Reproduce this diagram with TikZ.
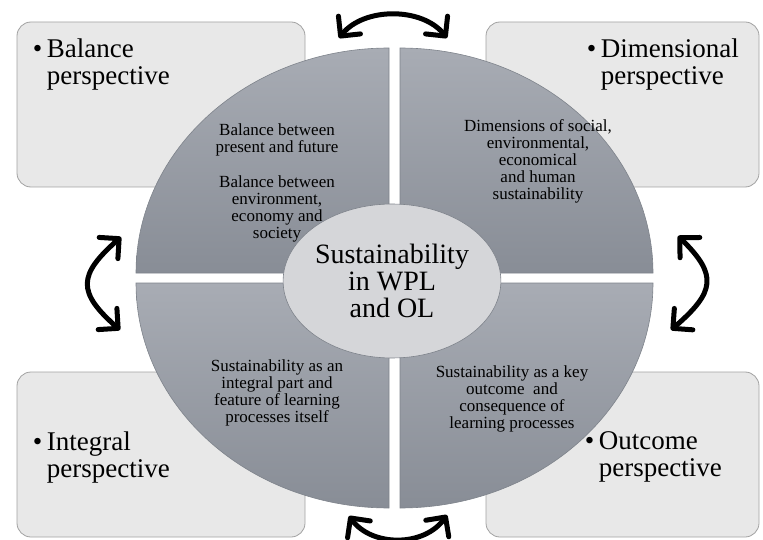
\documentclass[tikz,border=0pt]{standalone}
\usepackage{fontspec}
\setmainfont{Liberation Serif}
\usetikzlibrary{shapes.geometric, positioning, arrows.meta}
\definecolor{boxgray}{HTML}{E8E8E8}
\definecolor{boxline}{HTML}{A2A2A2}
\definecolor{quadtop}{HTML}{A8ACB4}
\definecolor{quadbottom}{HTML}{888D96}
\definecolor{quadline}{HTML}{7E838B}
\definecolor{hubgray}{HTML}{D5D6D9}
\newcommand{\persptext}[1]{\makebox[14pt][l]{\textbullet}#1\\\hspace*{14pt}perspective}

\begin{document}
\begin{tikzpicture}[x=1pt, y=-1pt,
    perspbox/.style={rectangle, 
      rounded corners=14pt, 
      draw=boxline, 
      fill=boxgray, 
      line width=0.8pt, 
      minimum height=165pt},
    persp/.style={align=left, inner sep=0pt, font=\fontsize{27}{27}\selectfont},
    quadrant/.style={top color=quadtop, bottom color=quadbottom, draw=quadline, line width=0.6pt},
    quadtext/.style={align=center, inner sep=0pt, font=\fontsize{17}{17}\selectfont},
    hub/.style={ellipse, 
      draw=quadline, 
      fill=hubgray, 
      line width=0.6pt, 
      minimum width=174pt, 
      minimum height=154pt, 
      align=center, 
      inner sep=0pt, 
      font=\fontsize{28}{27}\selectfont},
    swaparrow/.style={line width=5pt, line cap=round,
      {Straight Barb[angle=90:20pt,round]}-{Straight Barb[angle=90:20pt,round]}}]
  \useasboundingbox (0,0) rectangle (763,540);

  % PERSPECTIVE BOXES
  \node[perspbox, minimum width=288pt] (balbox) at (161,104.5) {};
  \node[perspbox, minimum width=273pt] (dimbox) at (622.5,104.5) {};
  \node[perspbox, minimum width=288pt] (intbox) at (161,454.5) {};
  \node[perspbox, minimum width=273pt] (outbox) at (622.5,454.5) {};

  % QUADRANTS
  \shadedraw[quadrant] (389,273) -- (136,273) 
    arc[start angle=180, end angle=270, x radius=253, y radius=225] -- cycle;
  \shadedraw[quadrant] (400,273) -- (400,48) 
    arc[start angle=270, end angle=360, x radius=253, y radius=225] -- cycle;
  \shadedraw[quadrant] (389,283) -- (136,283) 
    arc[start angle=180, end angle=90, x radius=253, y radius=225] -- cycle;
  \shadedraw[quadrant] (400,283) -- (653,283) 
    arc[start angle=0, end angle=90, x radius=253, y radius=225] -- cycle;

  \node[quadtext] (balance) at (277,183) {Balance between\\present and future\\[18pt]%
    Balance between\\environment,\\economy and\\society};
  \node[quadtext] (dimension) at (538,161) {Dimensions of social,\\environmental,\\economical\\%
    and human\\sustainability};
  \node[quadtext] (integral) at (277,393) {Sustainability as an\\integral part and\\%
    feature of learning\\processes itself};
  \node[quadtext] (outcome) at (512,399) {Sustainability as a key\\outcome\ \ and\\%
    consequence of\\learning processes};

  \node[hub] (hub) at (392,281) {Sustainability\\in WPL\\and OL};

  % BOX TITLES
  \node[persp, below right=16.5pt and 16pt of balbox.north west] (baltitle) {\persptext{Balance}};
  \node[persp, below right=16.5pt and 101pt of dimbox.north west] (dimtitle) {\persptext{Dimensional}};
  \node[persp, below right=59.5pt and 16pt of intbox.north west] (inttitle) {\persptext{Integral}};
  \node[persp, below right=59.5pt and 99pt of outbox.north west] (outtitle) {\persptext{Outcome}};

  % SWAP ARROWS
  \coordinate (topL) at (339,38);
  \coordinate (topR) at (447,38);
  \coordinate (leftT) at (121,237);
  \coordinate (leftB) at (120,330);
  \coordinate (rightT) at (678,236);
  \coordinate (rightB) at (671,330);
  \coordinate (botL) at (349,516);
  \coordinate (botR) at (447,515);

  \draw[swaparrow] (topL) .. controls (364,7) and (422,7) .. (topR);
  \draw[swaparrow] (leftT) .. controls (78,275) and (77,292) .. (leftB);
  \draw[swaparrow] (rightT) .. controls (718,275) and (715,292) .. (rightB);
  \draw[swaparrow] (botL) .. controls (372,547) and (424,547) .. (botR);

\end{tikzpicture}
\end{document}
